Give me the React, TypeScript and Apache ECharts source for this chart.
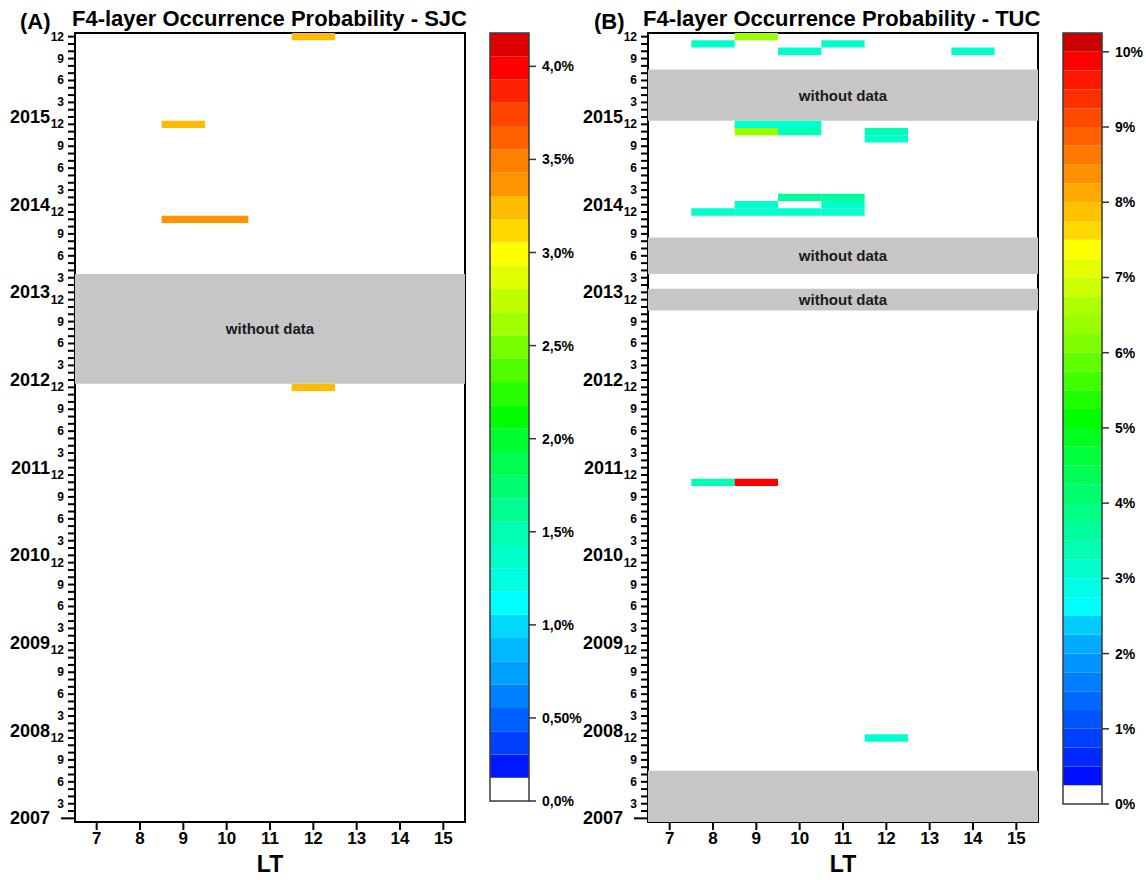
import React, { useEffect, useRef } from 'react';
import * as echarts from 'echarts';

// ---------------- data ----------------
const LT_HOURS = [7, 8, 9, 10, 11, 12, 13, 14, 15];
const YEARS = [2007, 2008, 2009, 2010, 2011, 2012, 2013, 2014, 2015];
const MONTH_LABELS = [3, 6, 9, 12];

// [year, month, LT, occurrence probability %]
const SJC_CELLS = [
  [2015, 12, 12, 3.25],
  [2014, 12, 9, 3.25],
  [2013, 11, 9, 3.36],
  [2013, 11, 10, 3.36],
  [2011, 12, 12, 3.25],
];
// [fromYear, fromMonth, toYear, toMonth, showLabel]
const SJC_NO_DATA = [[2012, 1, 2013, 3, 1]];

const TUC_CELLS = [
  [2015, 12, 9, 6.4],
  [2015, 11, 8, 3.1],
  [2015, 11, 11, 3.1],
  [2015, 10, 10, 3.1],
  [2015, 10, 14, 3.1],
  [2014, 12, 9, 3.1],
  [2014, 12, 10, 3.1],
  [2014, 11, 9, 6.4],
  [2014, 11, 10, 3.4],
  [2014, 11, 12, 3.4],
  [2014, 10, 12, 3.1],
  [2014, 2, 10, 3.6],
  [2014, 2, 11, 3.6],
  [2014, 1, 9, 3.1],
  [2014, 1, 11, 3.1],
  [2013, 12, 8, 3.1],
  [2013, 12, 9, 3.1],
  [2013, 12, 10, 3.1],
  [2013, 12, 11, 3.1],
  [2010, 11, 8, 3.4],
  [2010, 11, 9, 9.9],
  [2007, 12, 12, 3.1],
];
const TUC_NO_DATA = [
  [2015, 1, 2015, 7, 1],
  [2013, 4, 2013, 8, 1],
  [2012, 11, 2013, 1, 1],
  [2007, 1, 2007, 7, 0],
];

// colour scales (bottom band first)
const SJC_SCALE_MIN = 0.054;
const SJC_SCALE_STEP = 0.125;
const SJC_COLORS = [
  '#ffffff', '#0018ff', '#0040ff', '#0060ff', '#0080ff', '#00a0ff', '#00b8ff', '#00d8ff',
  '#00ffff', '#00ffe0', '#00ffc8', '#00ffb0', '#00ff90', '#00ff70', '#00ff50', '#00ff30',
  '#00ff00', '#28ff00', '#50ff00', '#78ff00', '#a0ff00', '#c0ff00', '#e0ff00', '#ffff00',
  '#ffd800', '#ffbb00', '#ff9400', '#ff8000', '#ff6000', '#ff4400', '#ff2200', '#ff0000',
  '#dd0000',
];
const SJC_TICK_FIRST = 0.5;
const SJC_TICK_LAST = 4;
const SJC_TICK_STEP = 0.5;

const TUC_SCALE_MIN = 0;
const TUC_SCALE_STEP = 0.25;
const TUC_COLORS = [
  '#ffffff', '#0010ff', '#0028ff', '#0040ff', '#0055ff', '#006aff', '#0080ff', '#0095ff',
  '#00aaff', '#00ccff', '#00ffff', '#00ffe6', '#00ffcc', '#00ffb4', '#00ff9c', '#00ff84',
  '#00ff6c', '#00ff54', '#00ff3c', '#00ff1e', '#00ff00', '#20ff00', '#40ff00', '#60ff00',
  '#80ff00', '#99ff00', '#b0ff00', '#ccff00', '#e6ff00', '#ffff00', '#ffd800', '#ffc000',
  '#ffa800', '#ff9000', '#ff7800', '#ff6000', '#ff4800', '#ff3000', '#ff1800', '#ff0000',
  '#cc0000',
];
const TUC_TICK_FIRST = 0;
const TUC_TICK_LAST = 10;
const TUC_TICK_STEP = 1;

// ---------------- layout ----------------
const FONT = '"Liberation Sans", Arial, sans-serif';
const PLOT_TOP = 33;
const PLOT_H = 789;
const PLOT_W = 390;
const PANEL_LEFT = [75, 648];
const BAR_LEFT = [490, 1063];
const BAR_W = 39;
const BAR_TOP = 33;
const BAR_H = [768, 771];
const N_MONTHS = YEARS.length * 12;
const MONTH_PX = PLOT_H / N_MONTHS;
const LT_PX = PLOT_W / LT_HOURS.length;
const Y_TICK = 7;
const Y_TICK_LONG = 14;
const X_TICK = 8;
const BAR_TICK = 7;

// ---------------- helpers ----------------
const monthIndex = (y: number, m: number) => (y - YEARS[0]) * 12 + m;
const MONTH_TICKS: number[] = [];
for (let i = 1; i <= N_MONTHS; i++) MONTH_TICKS.push(i);
const range = (a: number, b: number, s: number) => {
  const out: number[] = [];
  for (let v = a; v <= b + 1e-9; v += s) out.push(Math.round(v * 1000) / 1000);
  return out;
};

function bandColor(v: number, min: number, step: number, colors: string[]) {
  const i = Math.max(0, Math.min(colors.length - 1, Math.floor((v - min) / step)));
  return colors[i];
}

const hidden = (gridIndex: number, min = 0, max = 1) => ({ type: 'value', gridIndex, min, max, show: false });
const frameLine = { show: true, onZero: false, lineStyle: { color: '#000', width: 2 } };
const off = { show: false };

const rectBetween = (p1: number[], p2: number[], style: any) => ({
  type: 'rect',
  shape: {
    x: Math.min(p1[0], p2[0]), y: Math.min(p1[1], p2[1]),
    width: Math.abs(p2[0] - p1[0]), height: Math.abs(p2[1] - p1[1]),
  },
  style,
});

const cellRender = (min: number, step: number, colors: string[]) => (params: any, api: any) => {
  const lt = api.value(0);
  const m = api.value(1);
  const v = api.value(2);
  return rectBetween(api.coord([lt - 0.5, m + 0.5]), api.coord([lt + 0.5, m - 0.5]), { fill: bandColor(v, min, step, colors) });
};

const grayRender = (params: any, api: any) => {
  const s = api.value(0);
  const e = api.value(1);
  const lab = api.value(2);
  const p1 = api.coord([LT_HOURS[0] - 0.5, e + 0.5]);
  const p2 = api.coord([LT_HOURS[LT_HOURS.length - 1] + 0.5, s - 0.5]);
  const children: any[] = [rectBetween(p1, p2, { fill: '#c6c6c6' })];
  if (lab) {
    children.push({
      type: 'text',
      x: (p1[0] + p2[0]) / 2,
      y: (p1[1] + p2[1]) / 2,
      style: {
        text: 'without data', fill: '#1a1a1a', font: `bold 15px ${FONT}`,
        align: 'center', verticalAlign: 'middle', textAlign: 'center', textVerticalAlign: 'middle',
      },
    });
  }
  return { type: 'group', children };
};

const bandRender = (colors: string[]) => (params: any, api: any) => {
  const lo = api.value(0);
  const hi = api.value(1);
  const i = api.value(2);
  return rectBetween(api.coord([0, hi]), api.coord([1, lo]), { fill: colors[i] });
};

const outlineRender = (params: any, api: any) =>
  rectBetween(api.coord([0, api.value(1)]), api.coord([1, api.value(0)]), { fill: 'none', stroke: '#3a3a3a', lineWidth: 1.5 });

const toCells = (cells: number[][]) => cells.map(([y, m, lt, v]) => [lt, monthIndex(y, m), v]);
const toGray = (blocks: number[][]) =>
  blocks.map(([y1, m1, y2, m2, lab]) => [monthIndex(y1, m1), monthIndex(y2, m2), lab]);
const toBands = (min: number, step: number, colors: string[]) =>
  colors.map((c, i) => [min + i * step, min + (i + 1) * step, i]);

// tick marks as rect symbols of a scatter series sitting on the frame edge
function tickSeries(xAxisIndex: number, yAxisIndex: number, data: any[], color: string) {
  return {
    type: 'scatter', xAxisIndex, yAxisIndex, data, symbol: 'rect', clip: false, silent: true, z: 5,
    itemStyle: { color, opacity: 1 }, emphasis: { disabled: true }, animation: false,
  };
}

function titleText(x: number, y: number, text: string, size: number) {
  return {
    type: 'text', x, y,
    style: {
      text, fill: '#000', font: `bold ${size}px ${FONT}`,
      align: 'left', verticalAlign: 'middle', textAlign: 'left', textVerticalAlign: 'middle',
    },
  };
}

function buildPanel(p: number, cells: number[][], blocks: number[][], scaleMin: number, step: number, colors: string[],
  gi: number, xi: number, yi: number) {
  const left = PANEL_LEFT[p];
  const xMin = LT_HOURS[0] - 0.5;
  const xMax = LT_HOURS[LT_HOURS.length - 1] + 0.5;
  const yMin = 0.5;
  const yMax = N_MONTHS + 0.5;
  const grids = [
    { left, top: PLOT_TOP, width: PLOT_W, height: PLOT_H },                                   // main
    { left: left + LT_PX / 2, top: PLOT_TOP, width: PLOT_W - LT_PX, height: PLOT_H },         // x labels
    { left, top: PLOT_TOP + MONTH_PX / 2, width: PLOT_W, height: PLOT_H - MONTH_PX },         // y labels
  ];
  const xAxes = [
    { type: 'value', gridIndex: gi, min: xMin, max: xMax, position: 'bottom', axisLine: frameLine, axisTick: off, axisLabel: off, splitLine: off },
    { type: 'value', gridIndex: gi, min: xMin, max: xMax, position: 'top', axisLine: frameLine, axisTick: off, axisLabel: off, splitLine: off },
    {
      type: 'value', gridIndex: gi + 1, min: LT_HOURS[0], max: LT_HOURS[LT_HOURS.length - 1], interval: 1, position: 'bottom',
      axisLine: off, axisTick: off,
      axisLabel: { fontSize: 17, fontWeight: 'bold', color: '#000', margin: 12, fontFamily: FONT },
      splitLine: off,
      name: 'LT', nameLocation: 'middle', nameGap: 33,
      nameTextStyle: { fontSize: 23, fontWeight: 'bold', color: '#000', fontFamily: FONT },
    },
    hidden(gi + 2),
  ];
  const yAxes = [
    { type: 'value', gridIndex: gi, min: yMin, max: yMax, position: 'left', axisLine: frameLine, axisTick: off, axisLabel: off, splitLine: off },
    { type: 'value', gridIndex: gi, min: yMin, max: yMax, position: 'right', axisLine: frameLine, axisTick: off, axisLabel: off, splitLine: off },
    hidden(gi + 1),
    {
      type: 'value', gridIndex: gi + 2, min: 1, max: N_MONTHS, interval: 1, position: 'left',
      axisLine: off, axisTick: off,
      axisLabel: {
        formatter: (v: number) => {
          const k = Math.round(v);
          const mo = ((k - 1) % 12) + 1;
          return MONTH_LABELS.indexOf(mo) >= 0 ? String(mo) : '';
        },
        fontSize: 12, fontWeight: 'bold', color: '#000', margin: 11, fontFamily: FONT,
      },
      splitLine: off,
    },
    {
      type: 'value', gridIndex: gi + 2, min: 1, max: N_MONTHS, interval: 1, position: 'left',
      axisLine: off, axisTick: off,
      axisLabel: {
        formatter: (v: number) => {
          const k = Math.round(v);
          return (k - 1) % 12 === 0 ? String(YEARS[0] + (k - 1) / 12) : '';
        },
        fontSize: 18, fontWeight: 'bold', color: '#000', margin: 25, fontFamily: FONT,
      },
      splitLine: off,
    },
  ];
  const yTicks = MONTH_TICKS.map((m) => {
    const len = m === 1 ? Y_TICK_LONG : Y_TICK;
    return { value: [xMin, m], symbolSize: [len, 2], symbolOffset: [-len / 2, 0] };
  });
  const xTicks = LT_HOURS.map((h) => ({ value: [h, yMin], symbolSize: [2, X_TICK], symbolOffset: [0, X_TICK / 2] }));
  const series = [
    { type: 'custom', xAxisIndex: xi, yAxisIndex: yi, renderItem: grayRender, data: toGray(blocks), z: 1, silent: true, clip: true },
    { type: 'custom', xAxisIndex: xi, yAxisIndex: yi, renderItem: cellRender(scaleMin, step, colors), data: toCells(cells), z: 2, silent: true, clip: true },
    tickSeries(xi, yi, yTicks, '#000'),
    tickSeries(xi, yi, xTicks, '#000'),
  ];
  return { grids, xAxes, yAxes, series };
}

function buildBar(b: number, scaleMin: number, step: number, colors: string[], tFirst: number, tLast: number, tStep: number,
  fmt: (v: number) => string, bottomLabel: string | null, gi: number, xi: number, yi: number) {
  const scaleMax = scaleMin + colors.length * step;
  const h = BAR_H[b];
  const pxPer = h / (scaleMax - scaleMin);
  const rulerTop = BAR_TOP + (scaleMax - tLast) * pxPer;
  const rulerH = (tLast - tFirst) * pxPer;
  const grids = [
    { left: BAR_LEFT[b], top: BAR_TOP, width: BAR_W, height: h },
    { left: BAR_LEFT[b], top: rulerTop, width: BAR_W, height: rulerH },
  ];
  const labelStyle = { fontSize: 14, fontWeight: 'bold', color: '#000', margin: 13, fontFamily: FONT };
  const xAxes = [hidden(gi), hidden(gi + 1)];
  const yAxes: any[] = [
    bottomLabel
      ? {
        type: 'value', gridIndex: gi, min: scaleMin, max: scaleMax, position: 'right', axisLine: off, axisTick: off,
        axisLabel: { ...labelStyle, customValues: [scaleMin], formatter: () => bottomLabel },
        splitLine: off,
      }
      : { type: 'value', gridIndex: gi, min: scaleMin, max: scaleMax, show: false },
    {
      type: 'value', gridIndex: gi + 1, min: tFirst, max: tLast, interval: tStep, position: 'right',
      axisLine: off, axisTick: off, axisLabel: { ...labelStyle, formatter: fmt }, splitLine: off,
    },
  ];
  const tickVals = (bottomLabel ? [scaleMin] : []).concat(range(tFirst, tLast, tStep));
  const ticks = tickVals.map((v) => ({ value: [1, v], symbolSize: [BAR_TICK, 1.5], symbolOffset: [BAR_TICK / 2, 0] }));
  const series = [
    { type: 'custom', xAxisIndex: xi, yAxisIndex: yi, renderItem: bandRender(colors), data: toBands(scaleMin, step, colors), z: 1, silent: true },
    { type: 'custom', xAxisIndex: xi, yAxisIndex: yi, renderItem: outlineRender, data: [[scaleMin, scaleMax]], z: 3, silent: true },
    tickSeries(xi, yi, ticks, '#333'),
  ];
  return { grids, xAxes, yAxes, series };
}

export default function App() {
  const ref = useRef<HTMLDivElement>(null);
  useEffect(() => {
    if (!ref.current) return;
    const chart = echarts.init(ref.current, undefined, { renderer: 'svg' });

    const parts: any[] = [];
    let gi = 0, xi = 0, yi = 0;
    const add = (part: any) => {
      parts.push(part);
      gi += part.grids.length; xi += part.xAxes.length; yi += part.yAxes.length;
    };
    add(buildPanel(0, SJC_CELLS, SJC_NO_DATA, SJC_SCALE_MIN, SJC_SCALE_STEP, SJC_COLORS, gi, xi, yi));
    add(buildPanel(1, TUC_CELLS, TUC_NO_DATA, TUC_SCALE_MIN, TUC_SCALE_STEP, TUC_COLORS, gi, xi, yi));
    add(buildBar(0, SJC_SCALE_MIN, SJC_SCALE_STEP, SJC_COLORS, SJC_TICK_FIRST, SJC_TICK_LAST, SJC_TICK_STEP,
      (v: number) => (Math.abs(v - 0.5) < 1e-6 ? '0,50%' : v.toFixed(1).replace('.', ',') + '%'), '0,0%', gi, xi, yi));
    add(buildBar(1, TUC_SCALE_MIN, TUC_SCALE_STEP, TUC_COLORS, TUC_TICK_FIRST, TUC_TICK_LAST, TUC_TICK_STEP,
      (v: number) => `${Math.round(v)}%`, null, gi, xi, yi));

    const option: any = {
      animation: false,
      backgroundColor: '#ffffff',
      textStyle: { fontFamily: FONT },
      grid: parts.flatMap((p) => p.grids),
      xAxis: parts.flatMap((p) => p.xAxes),
      yAxis: parts.flatMap((p) => p.yAxes),
      series: parts.flatMap((p) => p.series),
      graphic: [
        titleText(20, 21, '(A)', 22),
        titleText(72, 18, 'F4-layer Occurrence Probability - SJC', 22),
        titleText(594, 21, '(B)', 22),
        titleText(643, 18, 'F4-layer Occurrence Probability - TUC', 22),
      ],
    };
    chart.setOption(option);
    return () => chart.dispose();
  }, []);
  return (
    <div
      ref={ref}
      style={{ position: 'fixed', left: 0, top: 0, width: 1146, height: 880, background: '#fff' }}
    />
  );
}
